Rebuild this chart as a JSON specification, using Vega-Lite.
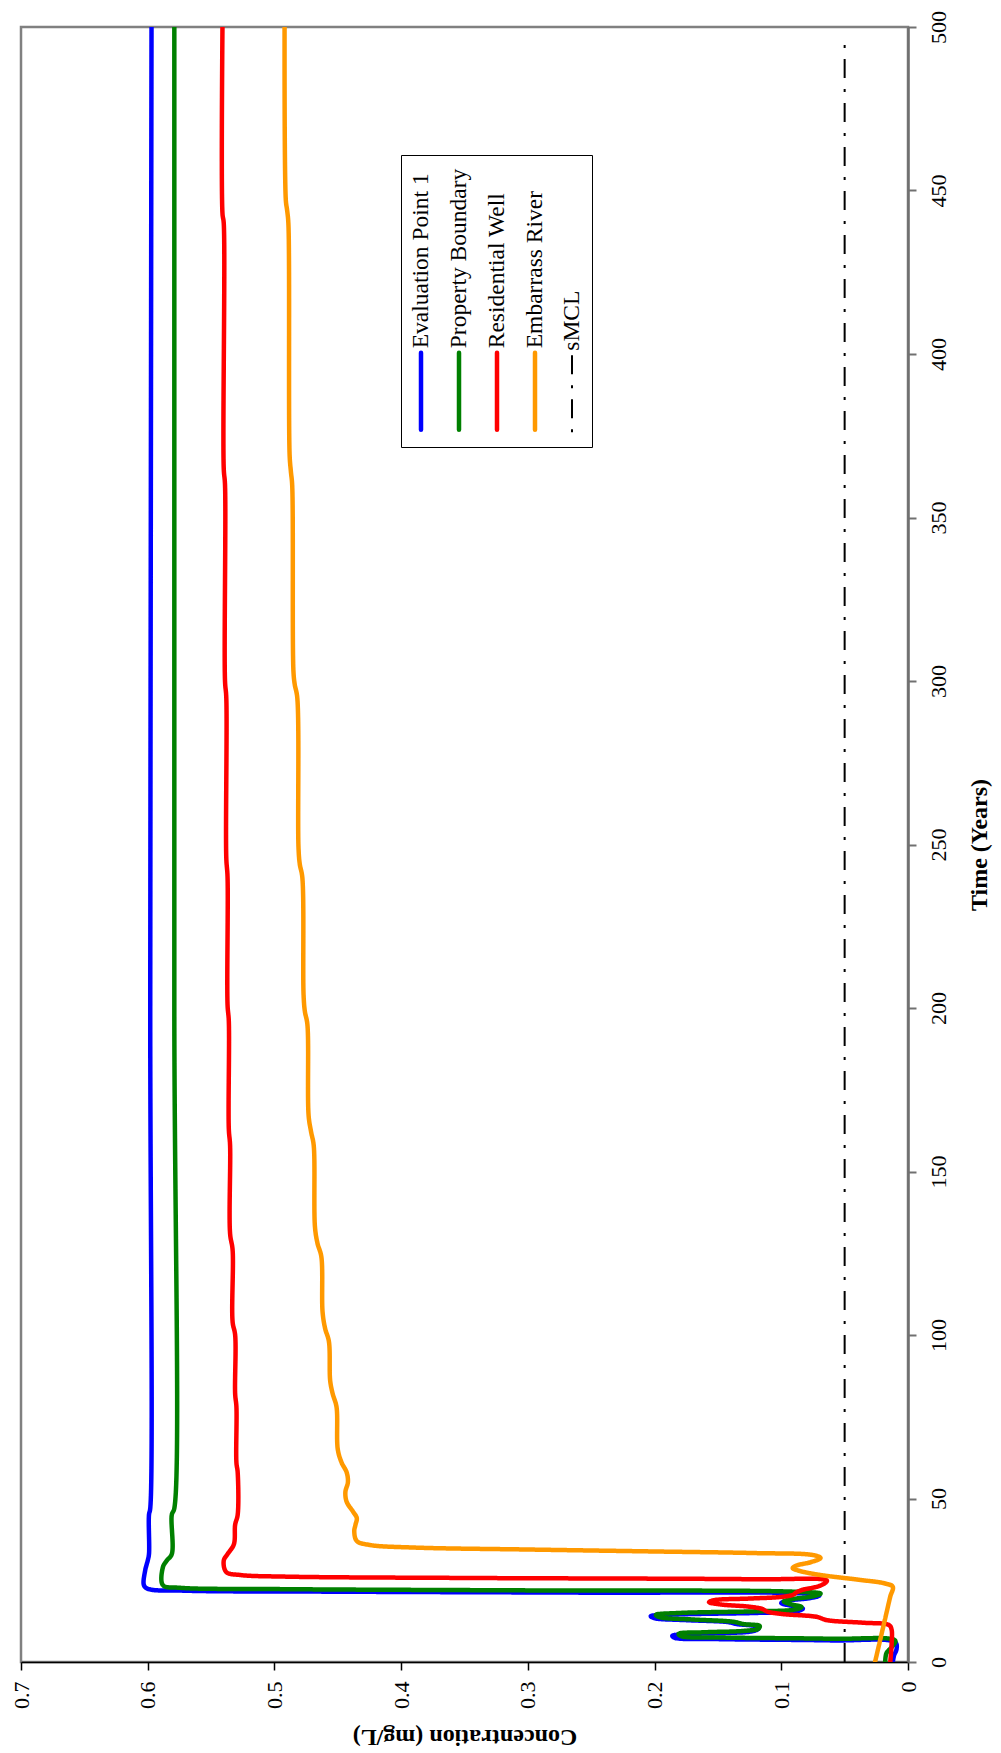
{
  "$schema": "https://vega.github.io/schema/vega-lite/v6.json",
  "autosize": {"type": "none"},
  "padding": {"left": 21, "top": 27, "right": 93, "bottom": 91},
  "width": 887,
  "height": 1635,
  "background": "white",
  "config": {
    "view": {"stroke": "#808080", "strokeWidth": 2.5},
    "font": "Liberation Serif",
    "axis": {"grid": false, "labelFont": "Liberation Serif", "titleFont": "Liberation Serif", "labelColor": "black", "titleColor": "black", "labelFontSize": 22, "titleFontSize": 24, "titleFontWeight": "bold", "tickSize": 8}
  },
  "datasets": {
    "conc": [
      {"s": "Evaluation Point 1", "t": 0, "c": 0.012},
      {"s": "Evaluation Point 1", "t": 2, "c": 0.011},
      {"s": "Evaluation Point 1", "t": 4, "c": 0.009},
      {"s": "Evaluation Point 1", "t": 6, "c": 0.010},
      {"s": "Evaluation Point 1", "t": 6.6, "c": 0.06},
      {"s": "Evaluation Point 1", "t": 7.0, "c": 0.15},
      {"s": "Evaluation Point 1", "t": 7.4, "c": 0.184},
      {"s": "Evaluation Point 1", "t": 8.0, "c": 0.186},
      {"s": "Evaluation Point 1", "t": 8.5, "c": 0.175},
      {"s": "Evaluation Point 1", "t": 8.9, "c": 0.14},
      {"s": "Evaluation Point 1", "t": 9.4, "c": 0.123},
      {"s": "Evaluation Point 1", "t": 10.2, "c": 0.118},
      {"s": "Evaluation Point 1", "t": 10.9, "c": 0.12},
      {"s": "Evaluation Point 1", "t": 11.6, "c": 0.135},
      {"s": "Evaluation Point 1", "t": 12.2, "c": 0.142},
      {"s": "Evaluation Point 1", "t": 12.8, "c": 0.175},
      {"s": "Evaluation Point 1", "t": 13.4, "c": 0.2},
      {"s": "Evaluation Point 1", "t": 14.0, "c": 0.203},
      {"s": "Evaluation Point 1", "t": 14.5, "c": 0.185},
      {"s": "Evaluation Point 1", "t": 15.0, "c": 0.12},
      {"s": "Evaluation Point 1", "t": 15.5, "c": 0.088},
      {"s": "Evaluation Point 1", "t": 16.3, "c": 0.083},
      {"s": "Evaluation Point 1", "t": 17.2, "c": 0.092},
      {"s": "Evaluation Point 1", "t": 18.0, "c": 0.1},
      {"s": "Evaluation Point 1", "t": 18.8, "c": 0.094},
      {"s": "Evaluation Point 1", "t": 19.5, "c": 0.078},
      {"s": "Evaluation Point 1", "t": 20.3, "c": 0.07},
      {"s": "Evaluation Point 1", "t": 20.9, "c": 0.08},
      {"s": "Evaluation Point 1", "t": 21.2, "c": 0.25},
      {"s": "Evaluation Point 1", "t": 21.5, "c": 0.45},
      {"s": "Evaluation Point 1", "t": 21.8, "c": 0.57},
      {"s": "Evaluation Point 1", "t": 22.4, "c": 0.6},
      {"s": "Evaluation Point 1", "t": 23.5, "c": 0.603},
      {"s": "Evaluation Point 1", "t": 28, "c": 0.602},
      {"s": "Evaluation Point 1", "t": 31, "c": 0.6},
      {"s": "Evaluation Point 1", "t": 33, "c": 0.599},
      {"s": "Evaluation Point 1", "t": 45, "c": 0.599},
      {"s": "Evaluation Point 1", "t": 47, "c": 0.598},
      {"s": "Evaluation Point 1", "t": 200, "c": 0.598},
      {"s": "Evaluation Point 1", "t": 500, "c": 0.597},

      {"s": "Property Boundary", "t": 0, "c": 0.018},
      {"s": "Property Boundary", "t": 2.7, "c": 0.017},
      {"s": "Property Boundary", "t": 4.5, "c": 0.013},
      {"s": "Property Boundary", "t": 6.5, "c": 0.010},
      {"s": "Property Boundary", "t": 7.1, "c": 0.06},
      {"s": "Property Boundary", "t": 7.5, "c": 0.15},
      {"s": "Property Boundary", "t": 7.9, "c": 0.179},
      {"s": "Property Boundary", "t": 8.6, "c": 0.181},
      {"s": "Property Boundary", "t": 9.1, "c": 0.16},
      {"s": "Property Boundary", "t": 9.5, "c": 0.13},
      {"s": "Property Boundary", "t": 10.2, "c": 0.118},
      {"s": "Property Boundary", "t": 11.0, "c": 0.117},
      {"s": "Property Boundary", "t": 11.6, "c": 0.13},
      {"s": "Property Boundary", "t": 12.3, "c": 0.138},
      {"s": "Property Boundary", "t": 13.0, "c": 0.17},
      {"s": "Property Boundary", "t": 13.7, "c": 0.196},
      {"s": "Property Boundary", "t": 14.4, "c": 0.199},
      {"s": "Property Boundary", "t": 15.0, "c": 0.18},
      {"s": "Property Boundary", "t": 15.5, "c": 0.12},
      {"s": "Property Boundary", "t": 16.0, "c": 0.09},
      {"s": "Property Boundary", "t": 16.8, "c": 0.084},
      {"s": "Property Boundary", "t": 17.7, "c": 0.093},
      {"s": "Property Boundary", "t": 18.5, "c": 0.098},
      {"s": "Property Boundary", "t": 19.3, "c": 0.09},
      {"s": "Property Boundary", "t": 20.0, "c": 0.076},
      {"s": "Property Boundary", "t": 20.9, "c": 0.069},
      {"s": "Property Boundary", "t": 21.5, "c": 0.09},
      {"s": "Property Boundary", "t": 21.9, "c": 0.3},
      {"s": "Property Boundary", "t": 22.3, "c": 0.5},
      {"s": "Property Boundary", "t": 22.7, "c": 0.575},
      {"s": "Property Boundary", "t": 23.5, "c": 0.588},
      {"s": "Property Boundary", "t": 29, "c": 0.588},
      {"s": "Property Boundary", "t": 31, "c": 0.585},
      {"s": "Property Boundary", "t": 33, "c": 0.581},
      {"s": "Property Boundary", "t": 45, "c": 0.581},
      {"s": "Property Boundary", "t": 47, "c": 0.579},
      {"s": "Property Boundary", "t": 200, "c": 0.579},
      {"s": "Property Boundary", "t": 500, "c": 0.579},

      {"s": "Residential Well", "t": 0, "c": 0.014},
      {"s": "Residential Well", "t": 5, "c": 0.013},
      {"s": "Residential Well", "t": 10, "c": 0.013},
      {"s": "Residential Well", "t": 11.3, "c": 0.015},
      {"s": "Residential Well", "t": 12.0, "c": 0.035},
      {"s": "Residential Well", "t": 12.8, "c": 0.064},
      {"s": "Residential Well", "t": 13.8, "c": 0.072},
      {"s": "Residential Well", "t": 14.7, "c": 0.1},
      {"s": "Residential Well", "t": 15.4, "c": 0.111},
      {"s": "Residential Well", "t": 16.2, "c": 0.115},
      {"s": "Residential Well", "t": 16.9, "c": 0.125},
      {"s": "Residential Well", "t": 17.6, "c": 0.148},
      {"s": "Residential Well", "t": 18.3, "c": 0.157},
      {"s": "Residential Well", "t": 18.9, "c": 0.153},
      {"s": "Residential Well", "t": 19.4, "c": 0.125},
      {"s": "Residential Well", "t": 19.9, "c": 0.1},
      {"s": "Residential Well", "t": 20.5, "c": 0.091},
      {"s": "Residential Well", "t": 21.3, "c": 0.088},
      {"s": "Residential Well", "t": 22.0, "c": 0.084},
      {"s": "Residential Well", "t": 23.0, "c": 0.072},
      {"s": "Residential Well", "t": 24.0, "c": 0.066},
      {"s": "Residential Well", "t": 24.9, "c": 0.064},
      {"s": "Residential Well", "t": 25.3, "c": 0.12},
      {"s": "Residential Well", "t": 25.7, "c": 0.35},
      {"s": "Residential Well", "t": 26.1, "c": 0.49},
      {"s": "Residential Well", "t": 26.6, "c": 0.527},
      {"s": "Residential Well", "t": 27.5, "c": 0.538},
      {"s": "Residential Well", "t": 31, "c": 0.54},
      {"s": "Residential Well", "t": 33, "c": 0.537},
      {"s": "Residential Well", "t": 36, "c": 0.532},
      {"s": "Residential Well", "t": 42, "c": 0.531},
      {"s": "Residential Well", "t": 45, "c": 0.529},
      {"s": "Residential Well", "t": 58, "c": 0.529},
      {"s": "Residential Well", "t": 61, "c": 0.530},
      {"s": "Residential Well", "t": 78, "c": 0.530},
      {"s": "Residential Well", "t": 82, "c": 0.531},
      {"s": "Residential Well", "t": 100, "c": 0.531},
      {"s": "Residential Well", "t": 104, "c": 0.533},
      {"s": "Residential Well", "t": 126, "c": 0.533},
      {"s": "Residential Well", "t": 131, "c": 0.535},
      {"s": "Residential Well", "t": 158, "c": 0.535},
      {"s": "Residential Well", "t": 163, "c": 0.536},
      {"s": "Residential Well", "t": 196, "c": 0.536},
      {"s": "Residential Well", "t": 201, "c": 0.537},
      {"s": "Residential Well", "t": 240, "c": 0.537},
      {"s": "Residential Well", "t": 246, "c": 0.538},
      {"s": "Residential Well", "t": 295, "c": 0.538},
      {"s": "Residential Well", "t": 300, "c": 0.539},
      {"s": "Residential Well", "t": 360, "c": 0.539},
      {"s": "Residential Well", "t": 365, "c": 0.540},
      {"s": "Residential Well", "t": 440, "c": 0.540},
      {"s": "Residential Well", "t": 443, "c": 0.541},
      {"s": "Residential Well", "t": 500, "c": 0.541},

      {"s": "Embarrass River", "t": 0, "c": 0.026},
      {"s": "Embarrass River", "t": 5, "c": 0.023},
      {"s": "Embarrass River", "t": 10, "c": 0.02},
      {"s": "Embarrass River", "t": 15, "c": 0.017},
      {"s": "Embarrass River", "t": 20, "c": 0.014},
      {"s": "Embarrass River", "t": 23, "c": 0.012},
      {"s": "Embarrass River", "t": 24, "c": 0.018},
      {"s": "Embarrass River", "t": 25.2, "c": 0.04},
      {"s": "Embarrass River", "t": 26.6, "c": 0.069},
      {"s": "Embarrass River", "t": 27.8, "c": 0.085},
      {"s": "Embarrass River", "t": 28.7, "c": 0.091},
      {"s": "Embarrass River", "t": 29.5, "c": 0.088},
      {"s": "Embarrass River", "t": 30.5, "c": 0.077},
      {"s": "Embarrass River", "t": 31.8, "c": 0.069},
      {"s": "Embarrass River", "t": 32.7, "c": 0.075},
      {"s": "Embarrass River", "t": 33.3, "c": 0.12},
      {"s": "Embarrass River", "t": 33.8, "c": 0.2},
      {"s": "Embarrass River", "t": 34.4, "c": 0.3},
      {"s": "Embarrass River", "t": 35.0, "c": 0.39},
      {"s": "Embarrass River", "t": 35.8, "c": 0.425},
      {"s": "Embarrass River", "t": 37, "c": 0.435},
      {"s": "Embarrass River", "t": 40, "c": 0.437},
      {"s": "Embarrass River", "t": 42, "c": 0.436},
      {"s": "Embarrass River", "t": 44, "c": 0.435},
      {"s": "Embarrass River", "t": 46, "c": 0.438},
      {"s": "Embarrass River", "t": 49, "c": 0.443},
      {"s": "Embarrass River", "t": 52, "c": 0.444},
      {"s": "Embarrass River", "t": 55, "c": 0.442},
      {"s": "Embarrass River", "t": 58, "c": 0.443},
      {"s": "Embarrass River", "t": 61, "c": 0.447},
      {"s": "Embarrass River", "t": 65, "c": 0.45},
      {"s": "Embarrass River", "t": 78, "c": 0.451},
      {"s": "Embarrass River", "t": 82, "c": 0.454},
      {"s": "Embarrass River", "t": 86, "c": 0.456},
      {"s": "Embarrass River", "t": 98, "c": 0.457},
      {"s": "Embarrass River", "t": 102, "c": 0.46},
      {"s": "Embarrass River", "t": 107, "c": 0.462},
      {"s": "Embarrass River", "t": 124, "c": 0.463},
      {"s": "Embarrass River", "t": 128, "c": 0.466},
      {"s": "Embarrass River", "t": 133, "c": 0.468},
      {"s": "Embarrass River", "t": 158, "c": 0.469},
      {"s": "Embarrass River", "t": 162, "c": 0.471},
      {"s": "Embarrass River", "t": 167, "c": 0.473},
      {"s": "Embarrass River", "t": 195, "c": 0.474},
      {"s": "Embarrass River", "t": 199, "c": 0.476},
      {"s": "Embarrass River", "t": 204, "c": 0.477},
      {"s": "Embarrass River", "t": 240, "c": 0.478},
      {"s": "Embarrass River", "t": 244, "c": 0.48},
      {"s": "Embarrass River", "t": 249, "c": 0.481},
      {"s": "Embarrass River", "t": 295, "c": 0.482},
      {"s": "Embarrass River", "t": 299, "c": 0.484},
      {"s": "Embarrass River", "t": 303, "c": 0.485},
      {"s": "Embarrass River", "t": 360, "c": 0.486},
      {"s": "Embarrass River", "t": 364, "c": 0.487},
      {"s": "Embarrass River", "t": 369, "c": 0.488},
      {"s": "Embarrass River", "t": 440, "c": 0.489},
      {"s": "Embarrass River", "t": 444, "c": 0.49},
      {"s": "Embarrass River", "t": 447, "c": 0.491},
      {"s": "Embarrass River", "t": 500, "c": 0.492}
    ],
    "smcl": [
      {"s": "sMCL", "t": 0, "c": 0.05},
      {"s": "sMCL", "t": 497, "c": 0.05}
    ]
  },
  "encoding": {
    "x": {
      "field": "c", "type": "quantitative",
      "scale": {"domain": [0, 0.7], "reverse": true, "nice": false, "zero": false},
      "axis": {
        "orient": "bottom", "title": "Concentration (mg/L)",
        "values": [0, 0.1, 0.2, 0.3, 0.4, 0.5, 0.6, 0.7], "format": ".1~f",
        "labelFont": "Liberation Serif", "labelFontSize": 22, "titleFont": "Liberation Serif",
        "labelAngle": 270, "labelAlign": "right", "labelBaseline": "middle", "labelPadding": 11,
        "domainColor": "black", "domainWidth": 1.5, "tickColor": "black", "tickWidth": 1.5,
        "titleAngle": 180, "titleBaseline": "bottom", "titlePadding": 16
      }
    },
    "y": {
      "field": "t", "type": "quantitative",
      "scale": {"domain": [0, 500], "nice": false},
      "axis": {
        "orient": "right", "title": "Time (Years)",
        "values": [0, 50, 100, 150, 200, 250, 300, 350, 400, 450, 500],
        "labelFont": "Liberation Serif", "labelFontSize": 22, "titleFont": "Liberation Serif",
        "labelAngle": 270, "labelAlign": "center", "labelBaseline": "top", "labelPadding": 12,
        "domainColor": "#707070", "domainWidth": 2.5, "tickColor": "#707070", "tickWidth": 2,
        "titleAngle": 270, "titleBaseline": "top", "titlePadding": 18
      }
    },
    "order": {"field": "t", "type": "quantitative"},
    "color": {
      "field": "s", "type": "nominal",
      "scale": {
        "domain": ["Evaluation Point 1", "Property Boundary", "Residential Well", "Embarrass River", "sMCL"],
        "range": ["#0000FF", "#008000", "#FF0000", "#FF9900", "#000000"]
      },
      "legend": {
        "title": null, "orient": "none", "legendX": 380, "legendY": 128,
        "direction": "horizontal", "columns": 5,
        "symbolType": "M0,-1L0,1", "symbolSize": 5929, "symbolStrokeWidth": 4.5,
        "labelFont": "Liberation Serif", "labelFontSize": 23.5, "labelColor": "black", "labelLimit": 400,
        "columnPadding": 13, "padding": 8,
        "strokeColor": "black", "fillColor": "white",
        "encode": {
          "symbols": {"update": {
            "x": {"value": 12}, "y": {"value": 228},
            "strokeWidth": {"signal": "datum.value === 'sMCL' ? 2 : 4.5"},
            "strokeCap": {"signal": "datum.value === 'sMCL' ? 'butt' : 'round'"}
          }},
          "labels": {"update": {
            "x": {"value": 12}, "y": {"value": 185},
            "angle": {"value": 270}, "align": {"value": "left"}, "baseline": {"value": "middle"}
          }}
        }
      }
    },
    "strokeDash": {
      "field": "s", "type": "nominal",
      "scale": {
        "domain": ["Evaluation Point 1", "Property Boundary", "Residential Well", "Embarrass River", "sMCL"],
        "range": [[1, 0], [1, 0], [1, 0], [1, 0], [19, 11, 3, 11]]
      },
      "legend": {
        "title": null, "orient": "none", "legendX": 380, "legendY": 128,
        "direction": "horizontal", "columns": 5,
        "symbolType": "M0,-1L0,1", "symbolSize": 5929, "symbolStrokeWidth": 4.5,
        "labelFont": "Liberation Serif", "labelFontSize": 23.5, "labelColor": "black", "labelLimit": 400,
        "columnPadding": 13, "padding": 8,
        "strokeColor": "black", "fillColor": "white",
        "encode": {
          "symbols": {"update": {
            "x": {"value": 12}, "y": {"value": 228},
            "strokeWidth": {"signal": "datum.value === 'sMCL' ? 2 : 4.5"},
            "strokeCap": {"signal": "datum.value === 'sMCL' ? 'butt' : 'round'"}
          }},
          "labels": {"update": {
            "x": {"value": 12}, "y": {"value": 185},
            "angle": {"value": 270}, "align": {"value": "left"}, "baseline": {"value": "middle"}
          }}
        }
      }
    }
  },
  "layer": [
    {
      "data": {"name": "conc"},
      "mark": {"type": "line", "strokeWidth": 4.5, "strokeCap": "round", "strokeJoin": "round", "interpolate": "catmull-rom", "clip": true}
    },
    {
      "data": {"name": "smcl"},
      "mark": {"type": "line", "strokeWidth": 2, "strokeCap": "butt"}
    }
  ]
}
